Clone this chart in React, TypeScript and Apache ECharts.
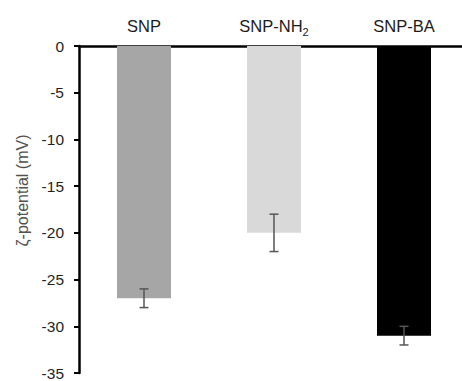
import React, { useEffect, useRef } from "react";
import * as echarts from "echarts";

const categories = ["SNP", "SNP-NH2", "SNP-BA"];
const categoryLabels = ["SNP", "SNP-NH{sub|2}", "SNP-BA"];
const values = [-27, -20, -31];
const errors = [1, 2, 1];
const barColors = ["#a6a6a6", "#d9d9d9", "#000000"];
const yTicks = { min: -35, max: 0, interval: 5 };

const FONT = "'Liberation Sans', Arial, Helvetica, sans-serif";

export default function App() {
  const ref = useRef<HTMLDivElement>(null);
  useEffect(() => {
    if (!ref.current) return;
    const chart = echarts.init(ref.current, undefined, { renderer: "svg" });
    const errData = values.map((v, i) => [i, v - errors[i], v + errors[i]]);
    chart.setOption({
      animation: false,
      backgroundColor: "#ffffff",
      grid: { left: 79, right: 0, top: 46, bottom: 5, containLabel: false },
      xAxis: {
        type: "category",
        position: "top",
        data: categories,
        axisLine: { show: true, onZero: false, lineStyle: { color: "#000", width: 2.5 } },
        axisTick: { show: false },
        splitLine: { show: false },
        axisLabel: {
          interval: 0,
          margin: 10,
          fontSize: 16.5,
          lineHeight: 20,
          color: "#1a1a1a",
          fontFamily: FONT,
          formatter: (_v: string, i: number) => categoryLabels[i],
          rich: {
            sub: { fontSize: 11, lineHeight: 20, padding: [11, 0, 0, 0], color: "#1a1a1a", fontFamily: FONT },
          },
        },
      },
      yAxis: {
        type: "value",
        min: yTicks.min,
        max: yTicks.max,
        interval: yTicks.interval,
        name: "ζ-potential (mV)",
        nameLocation: "middle",
        nameGap: 41,
        nameTextStyle: {
          fontSize: 16,
          color: "#505050",
          fontFamily: FONT,
          padding: [0, 0, 0, 38],
        },
        axisLine: { show: true, lineStyle: { color: "#000", width: 2.5 } },
        axisTick: { show: true, length: 5, lineStyle: { color: "#000", width: 2 } },
        splitLine: { show: false },
        axisLabel: { margin: 15, fontSize: 15.5, color: "#1f1f1f", fontFamily: FONT },
      },
      series: [
        {
          type: "bar",
          barWidth: 54,
          data: values.map((v, i) => ({ value: v, itemStyle: { color: barColors[i] } })),
        },
        {
          type: "custom",
          data: errData,
          encode: { x: 0, y: [1, 2] },
          z: 5,
          renderItem: (params: any, api: any) => {
            const idx = api.value(0);
            const lo = api.coord([idx, api.value(1)]);
            const hi = api.coord([idx, api.value(2)]);
            const half = 4.5;
            const style = { stroke: "#555555", lineWidth: 1.5 };
            return {
              type: "group",
              children: [
                { type: "line", shape: { x1: lo[0], y1: lo[1], x2: hi[0], y2: hi[1] }, style },
                { type: "line", shape: { x1: lo[0] - half, y1: lo[1], x2: lo[0] + half, y2: lo[1] }, style },
                { type: "line", shape: { x1: hi[0] - half, y1: hi[1], x2: hi[0] + half, y2: hi[1] }, style },
              ],
            };
          },
        },
      ],
    });
    return () => chart.dispose();
  }, []);
  return (
    <div
      ref={ref}
      style={{ position: "fixed", left: 0, top: 0, width: 469, height: 381, background: "#fff" }}
    />
  );
}
